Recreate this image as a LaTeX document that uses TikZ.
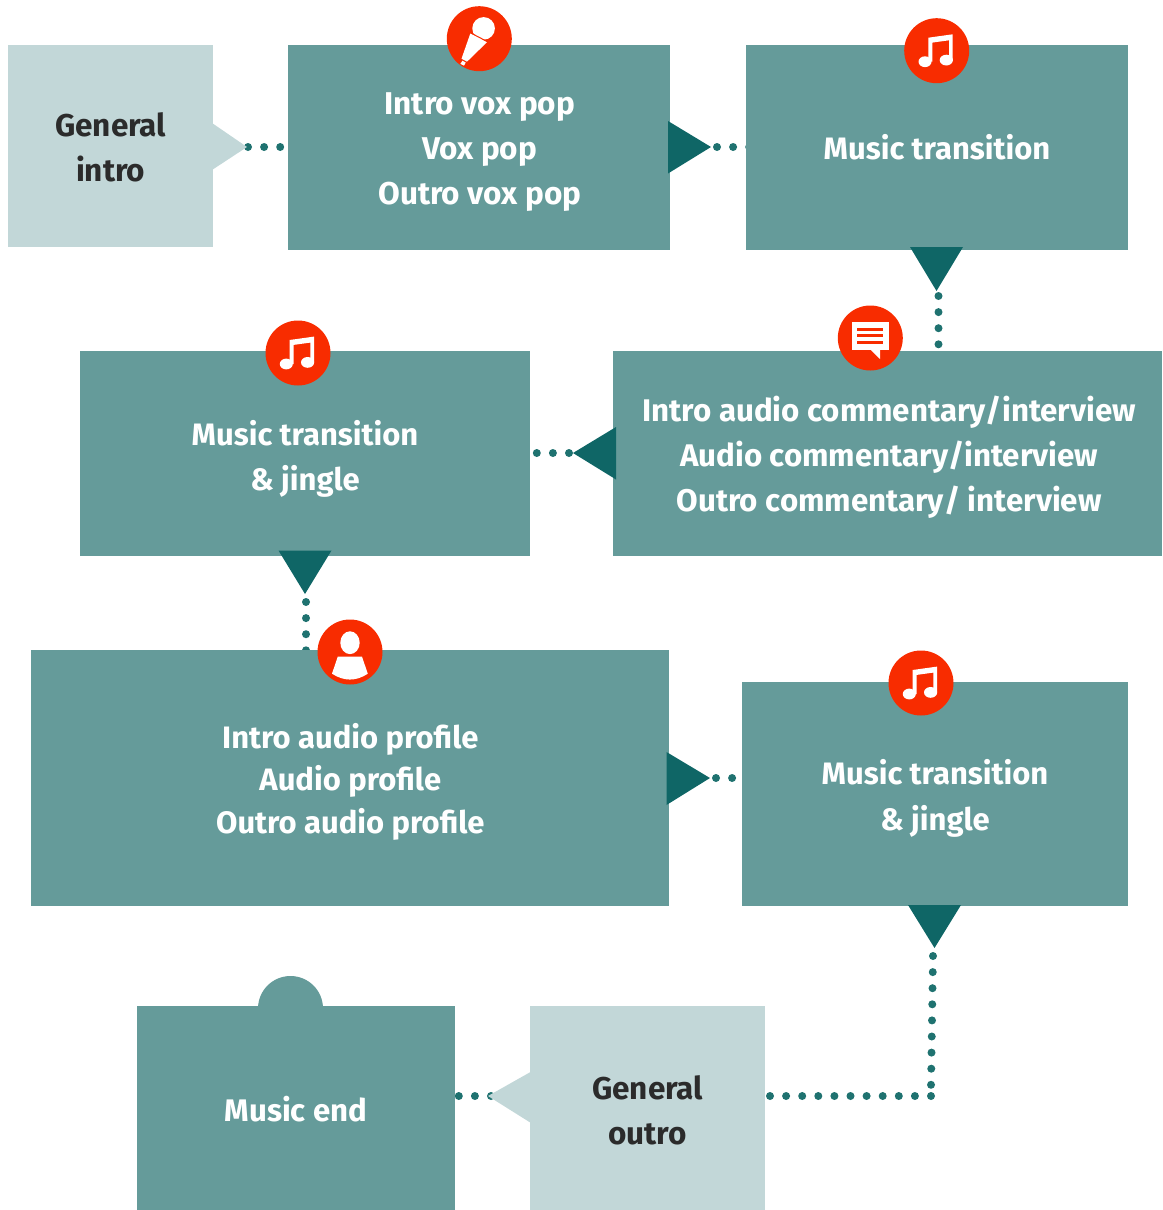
\documentclass[tikz,border=0pt]{standalone}
\usepackage{fontspec}
\setmainfont{Fira Sans}
\definecolor{boxteal}{HTML}{659B9A}
\definecolor{boxlight}{HTML}{C2D7D8}
\definecolor{tridark}{HTML}{0F6666}
\definecolor{dotteal}{HTML}{1F7270}
\definecolor{iconred}{HTML}{F82C00}
\definecolor{inkdark}{HTML}{2B2B2B}
\tikzset{
  boxbase/.style={rectangle,anchor=north west,inner sep=0pt,outer sep=0pt},
  tealbox/.style={boxbase,fill=boxteal},
  lightbox/.style={boxbase,fill=boxlight},
  whitelabel/.style={text=white,align=center,inner sep=0pt,font=\fontsize{31}{45}\selectfont\bfseries},
  darklabel/.style={text=inkdark,align=center,inner sep=0pt,font=\fontsize{31.5}{45}\selectfont\bfseries},
  dotline/.style={draw=dotteal,line width=8pt,line cap=round,dash pattern=on 0pt off 16.1pt},
  tri/.style={fill=tridark},
  iconcircle/.style={circle,fill=iconred,minimum size=65pt,inner sep=0pt,outer sep=0pt},
}
\newcommand{\musicglyph}[1]{%
  \begin{scope}[shift={(#1)}]
    \fill[white] (-8.4,-13) -- (16,-16.4) -- (16,9.3) -- (12.3,9.3) -- (12.3,-10.4) -- (-4.4,-8.1) -- (-4.4,11) -- (-8.4,11) -- cycle;
    \fill[white] (-11.7,11) ellipse (6.5 and 5.4);
    \fill[white] (9.6,9.4) ellipse (6.6 and 5.4);
  \end{scope}}
\begin{document}
\begin{tikzpicture}[x=1pt,y=-1pt]
\useasboundingbox (0,0) rectangle (1162,1210);

% connector end points
\coordinate (d1a) at (248,147);   \coordinate (d1b) at (280.5,147);
\coordinate (d2a) at (717,147);   \coordinate (d2b) at (749.5,147);
\coordinate (d3a) at (938.5,296); \coordinate (d3b) at (938.5,344.6);
\coordinate (d4a) at (569,453);   \coordinate (d4b) at (536.5,453);
\coordinate (d5a) at (306,602);   \coordinate (d5b) at (306,650.6);
\coordinate (d6a) at (716,778);   \coordinate (d6b) at (748.5,778);
\coordinate (d7a) at (933,956);   \coordinate (d7b) at (931,1085.5);
\coordinate (d8a) at (931,1096);  \coordinate (d8b) at (769.5,1096);
\coordinate (d9a) at (491,1096);  \coordinate (d9b) at (458.5,1096);

% dotted connectors, under the boxes
\draw[dotline] (d1a) -- (d1b);
\draw[dotline] (d2a) -- (d2b);
\draw[dotline] (d3a) -- (d3b);
\draw[dotline] (d4a) -- (d4b);
\draw[dotline] (d5a) -- (d5b);
\draw[dotline] (d6a) -- (d6b);
\draw[dotline] (d7a) -- (d7b);
\draw[dotline] (d8a) -- (d8b);
\draw[dotline] (d9a) -- (d9b);

% boxes
\node[lightbox,minimum width=205pt,minimum height=202pt] (intro) at (8,45) {};
\fill[boxlight] (212,123) -- (247,147) -- (212,170) -- cycle;
\node[tealbox,minimum width=382pt,minimum height=205pt] (vox) at (288,45) {};
\node[tealbox,minimum width=382pt,minimum height=205pt] (trans) at (746,45) {};
\node[tealbox,minimum width=549pt,minimum height=205pt] (comm) at (613,351) {};
\node[tealbox,minimum width=450pt,minimum height=205pt] (jingle) at (80,351) {};
\node[tealbox,minimum width=638pt,minimum height=256pt] (profile) at (31,650) {};
\node[tealbox,minimum width=386pt,minimum height=224pt] (jingleb) at (742,682) {};
\node[lightbox,minimum width=235pt,minimum height=204pt] (outro) at (530,1006) {};
\fill[boxlight] (531,1071.7) -- (488,1096) -- (531,1123) -- cycle;
\fill[boxteal] (290.5,1008.5) circle (32.5);
\node[tealbox,minimum width=318pt,minimum height=204pt] (endbox) at (137,1006) {};

% triangles
\fill[tri] (668,121) -- (711,147) -- (668,173.5) -- cycle;
\fill[tri] (910,247) -- (963,247) -- (936.5,291) -- cycle;
\fill[tri] (616,427) -- (573,453) -- (616,479.5) -- cycle;
\fill[tri] (278.5,550.5) -- (331.5,550.5) -- (305,594) -- cycle;
\fill[tri] (666.5,752) -- (710,778) -- (666.5,805) -- cycle;
\fill[tri] (908,905) -- (961,905) -- (934.5,948) -- cycle;

% labels
\node[darklabel] (tintro) at (110.7,147.5) {General\\intro};
\node[whitelabel,font=\fontsize{31.5}{45}\selectfont\bfseries] (tvox) at (479.8,152.3) {Intro vox pop\\Vox pop\\Outro vox pop};
\node[whitelabel] (ttrans) at (937,147.5) {Music transition};
\node[whitelabel,font=\fontsize{31.3}{45}\selectfont\bfseries] (tcomm) at (889.2,457) {Intro audio commentary/interview\\Audio commentary/interview\\Outro commentary/ interview};
\node[whitelabel] (tjingle) at (305,459) {Music transition\\\& jingle};
\node[whitelabel,font=\fontsize{31}{42.5}\selectfont\bfseries] (tprofile) at (350.3,781.5) {Intro audio profile\\Audio profile\\Outro audio profile};
\node[whitelabel,font=\fontsize{31}{46}\selectfont\bfseries] (tjingleb) at (935,798.5) {Music transition\\\& jingle};
\node[darklabel] (toutro) at (647.7,1110.5) {General\\outro};
\node[whitelabel,font=\fontsize{31.2}{45}\selectfont\bfseries] (tend) at (296,1109.5) {Music end};

% icons
\node[iconcircle] (imic) at (479.3,38.7) {};
\begin{scope}[shift={(imic.center)}]
  \fill[white] (4.3,-10.3) circle (11.3);
  \fill[white] (-8.9,-5.4) -- (7.8,3.4) -- (-12.3,23) -- (-17.8,20) -- cycle;
  \fill[white] (-16.8,22) -- (-13.6,23.8) -- (-15.3,27) -- (-19,25.2) -- cycle;
  \draw[iconred,line width=1pt] (-9.8,-6.4) -- (9,3.4);
\end{scope}

\node[iconcircle] (imusa) at (936.7,50.7) {};
\musicglyph{imusa.center}
\node[iconcircle] (ichat) at (870.3,338) {};
\begin{scope}[shift={(ichat.center)}]
  \fill[white] (-18,-16) rectangle (18.3,11.7);
  \fill[white] (0,11.5) -- (9.7,21) -- (9.7,11.5) -- cycle;
  \fill[iconred] (-13.3,-10) rectangle (12.7,-7);
  \fill[iconred] (-13.3,-4) rectangle (12.7,-1);
  \fill[iconred] (-13.3,2.7) rectangle (12.7,5.7);
\end{scope}
\node[iconcircle] (imusb) at (298,353) {};
\musicglyph{imusb.center}
\node[iconcircle] (iperson) at (350,652) {};
\begin{scope}[shift={(iperson.center)}]
  \fill[white] (0,-9.3) ellipse (9.7 and 11.4);
  \fill[white] (-12.3,4.7) -- (12,4.7) -- (17.8,21.7) .. controls (6,29.5) and (-6,29.5) .. (-18,21.7) -- cycle;
\end{scope}
\node[iconcircle] (imusc) at (921,683) {};
\musicglyph{imusc.center}
\end{tikzpicture}
\end{document}
